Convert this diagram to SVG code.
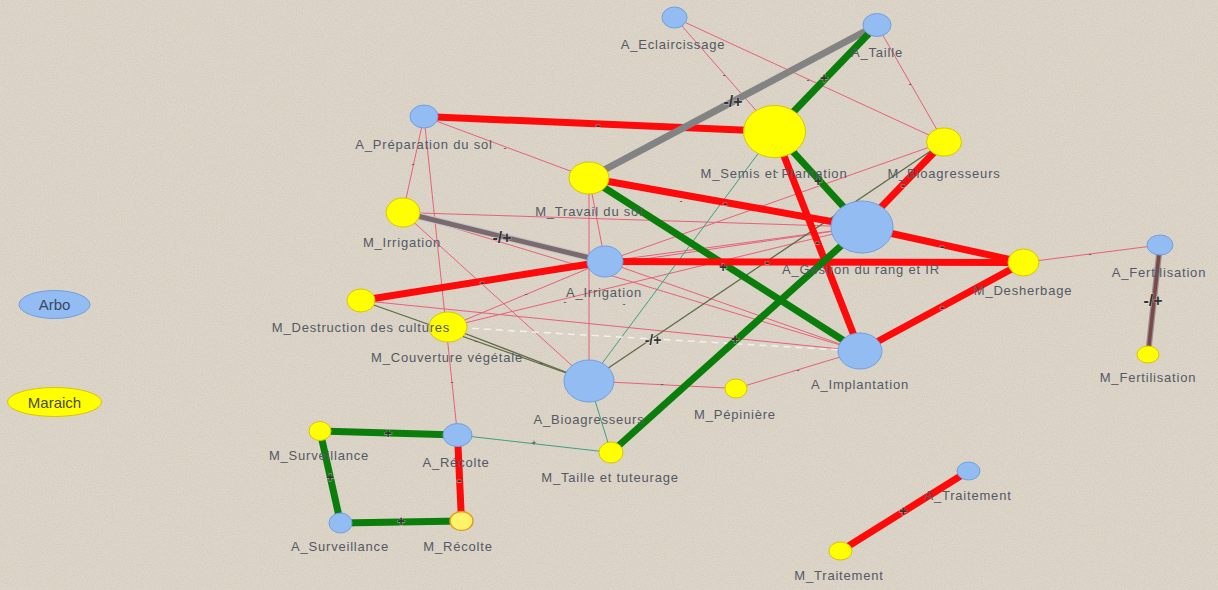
<svg xmlns="http://www.w3.org/2000/svg" width="1218" height="590" viewBox="0 0 1218 590">
<defs>
<filter id="noise" x="0" y="0" width="100%" height="100%">
<feTurbulence type="fractalNoise" baseFrequency="0.9" numOctaves="2" seed="3" result="n"/>
<feColorMatrix in="n" type="matrix" values="0 0 0 0 0.45  0 0 0 0 0.42  0 0 0 0 0.38  0 0 0 -1.6 0.95"/>
</filter>
<style>
.t{font-family:"Liberation Sans",Arial,sans-serif;font-size:13px;letter-spacing:0.8px;fill:#545964;text-anchor:middle}
.lg{font-family:"Liberation Sans",Arial,sans-serif;font-size:15px;text-anchor:middle}
.a{fill:#93bdf2;stroke:#6f9fe2;stroke-width:1}
.m{fill:#ffff00;stroke:#d8c600;stroke-width:1}
.thin{stroke:#e8607a;stroke-width:1;fill:none}
.teal{stroke:#3fa07e;stroke-width:1;fill:none}
.olive{stroke:#5d6a45;stroke-width:1.3;fill:none}
.red{stroke:#ff0a0a;stroke-width:7;fill:none}
.green{stroke:#0a7d0a;stroke-width:7;fill:none}
.el{font-family:"Liberation Sans",Arial,sans-serif;font-size:14px;font-weight:bold;fill:#333;text-anchor:middle;stroke:#ffffff;stroke-width:0.8;stroke-opacity:0.6;paint-order:stroke}
.es{font-family:"Liberation Sans",Arial,sans-serif;font-size:9px;fill:#444;text-anchor:middle}
.big{font-family:"Liberation Sans",Arial,sans-serif;font-size:16px;font-weight:bold;fill:#333;text-anchor:middle;stroke:#ffffff;stroke-width:0.8;stroke-opacity:0.5;paint-order:stroke}
</style>
</defs>
<rect width="1218" height="590" fill="#dcd5c8"/>
<rect width="1218" height="590" filter="url(#noise)" opacity="0.35"/>

<g id="connectors">
<g id="thin-edges">
<line class="thin" x1="674.5" y1="17.5" x2="774.5" y2="131.5"/>
<line class="thin" x1="674.5" y1="17.5" x2="944" y2="142"/>
<line class="thin" x1="877" y1="25" x2="944" y2="142"/>
<line class="thin" x1="424" y1="116.5" x2="589" y2="178"/>
<line class="thin" x1="424" y1="116.5" x2="403" y2="212.5"/>
<line class="thin" x1="424" y1="116.5" x2="457.5" y2="435"/>
<line class="thin" x1="403" y1="212.5" x2="862" y2="227"/>
<line class="thin" x1="403" y1="212.5" x2="589" y2="381"/>
<line class="thin" x1="403" y1="212.5" x2="860" y2="351"/>
<line class="thin" x1="589" y1="178" x2="605" y2="261.5"/>
<line class="thin" x1="589" y1="178" x2="589" y2="381"/>
<line class="thin" x1="605" y1="261.5" x2="944" y2="142"/>
<line class="thin" x1="605" y1="261.5" x2="862" y2="227"/>
<line class="thin" x1="605" y1="261.5" x2="860" y2="351"/>
<line class="thin" x1="361" y1="300.5" x2="860" y2="351"/>
<line class="thin" x1="361" y1="300.5" x2="862" y2="227"/>
<line class="thin" x1="448" y1="327" x2="605" y2="261.5"/>
<line class="thin" x1="448" y1="327" x2="862" y2="227"/>
<line class="thin" x1="589" y1="381" x2="736" y2="388.5"/>
<line class="thin" x1="736" y1="388.5" x2="860" y2="351"/>
<line class="thin" x1="1023.5" y1="262.5" x2="1160" y2="245"/>
<line class="olive" x1="361" y1="300.5" x2="589" y2="381"/>
<line class="olive" x1="448" y1="327" x2="589" y2="381"/>
<line class="olive" x1="589" y1="381" x2="944" y2="142" stroke="#4d5a4d"/>
<line class="teal" x1="774.5" y1="131.5" x2="589" y2="381"/>
<line class="teal" x1="589" y1="381" x2="611" y2="452.5"/>
<line class="teal" x1="457.5" y1="435" x2="611" y2="452.5"/>
<line x1="448" y1="327" x2="860" y2="351" stroke="#f4f0ea" stroke-width="1.5" stroke-dasharray="7,5"/>
</g>
<g id="thick-edges">
<line class="red" x1="424" y1="116.5" x2="774.5" y2="131.5"/>
<line x1="589" y1="178" x2="877" y2="25" stroke="#838383" stroke-width="7"/>
<line class="green" x1="877" y1="25" x2="774.5" y2="131.5"/>
<line class="green" x1="774.5" y1="131.5" x2="862" y2="227"/>
<line class="red" x1="774.5" y1="131.5" x2="860" y2="351"/>
<line class="red" x1="944" y1="142" x2="862" y2="227"/>
<line class="red" x1="589" y1="178" x2="862" y2="227"/>
<line class="green" x1="589" y1="178" x2="860" y2="351"/>
<line class="red" x1="862" y1="227" x2="1023.5" y2="262.5"/>
<line class="red" x1="605" y1="261.5" x2="1023.5" y2="262.5"/>
<line class="red" x1="860" y1="351" x2="1023.5" y2="262.5"/>
<line class="green" x1="862" y1="227" x2="611" y2="452.5"/>
<line class="red" x1="361" y1="300.5" x2="605" y2="261.5"/>
<line x1="403" y1="212.5" x2="605" y2="261.5" stroke="#c9c2c4" stroke-width="7"/>
<line x1="403" y1="212.5" x2="605" y2="261.5" stroke="#786a6e" stroke-width="5"/>
<line x1="1160" y1="245" x2="1148" y2="354.5" stroke="#9a9090" stroke-width="6"/>
<line x1="1160" y1="245" x2="1148" y2="354.5" stroke="#7a4848" stroke-width="3.5"/>
<line class="green" x1="320" y1="431" x2="457.5" y2="435"/>
<line class="green" x1="320" y1="431" x2="340.5" y2="523"/>
<line class="green" x1="340.5" y1="523" x2="461.5" y2="521"/>
<line class="red" x1="457.5" y1="435" x2="461.5" y2="521"/>
<line class="red" x1="968.5" y1="471" x2="840.5" y2="551" stroke-width="6" stroke="#e80e0e"/>
</g>
<g id="edge-labels">
<text class="el" x="598" y="130">-</text>
<text class="big" x="733" y="107">-/+</text>
<text class="el" x="824" y="83">+</text>
<text class="el" x="818" y="186">+</text>
<text class="el" x="903" y="190">-</text>
<text class="el" x="725" y="208">-</text>
<text class="el" x="817" y="247">-</text>
<text class="el" x="942" y="251">-</text>
<text class="el" x="942" y="312">-</text>
<text class="el" x="767" y="267">-</text>
<text class="el" x="723" y="272">+</text>
<text class="el" x="735" y="344">+</text>
<text class="el" x="653" y="345">-/+</text>
<text class="el" x="482" y="287">-</text>
<text class="big" x="502" y="243">-/+</text>
<text class="big" x="1153" y="306">-/+</text>
<text class="el" x="388" y="438">+</text>
<text class="el" x="330" y="482">+</text>
<text class="el" x="401" y="526">+</text>
<text class="el" x="459" y="485">-</text>
<text class="el" x="903" y="516">+</text>
<text class="es" x="534" y="446">+</text>
<text class="es" x="505" y="151">-</text>
<text class="es" x="413" y="167">-</text>
<text class="es" x="724" y="78">-</text>
<text class="es" x="808" y="83">-</text>
<text class="es" x="910" y="87">-</text>
<text class="es" x="452" y="385">-</text>
<text class="es" x="526" y="297">-</text>
<text class="es" x="624" y="307">-</text>
<text class="es" x="476" y="344">-</text>
<text class="es" x="565" y="305">-</text>
<text class="es" x="681" y="204">-</text>
<text class="es" x="777" y="175">-</text>
<text class="es" x="541" y="366">-</text>
<text class="es" x="662" y="387">-</text>
<text class="es" x="798" y="373">-</text>
<text class="es" x="1090" y="257">-</text>
</g>
</g>

<g id="legend-arbo"><ellipse class="a" cx="54.5" cy="304.5" rx="35.5" ry="14"/><text class="lg" x="54.5" y="310" fill="#3a4862">Arbo</text></g>
<g id="legend-maraich"><ellipse class="m" cx="54.5" cy="402" rx="47" ry="14.5"/><text class="lg" x="54.5" y="407.5" fill="#4a4a28">Maraich</text></g>

<g id="A_Eclaircissage"><ellipse class="a" cx="674.5" cy="17.5" rx="12.5" ry="10.5"/><text class="t" x="673" y="49">A_Eclaircissage</text></g>
<g id="A_Taille"><ellipse class="a" cx="877" cy="25" rx="14" ry="11.5"/><text class="t" x="877" y="57">A_Taille</text></g>
<g id="M_Semis"><ellipse class="m" cx="774.5" cy="131.5" rx="31" ry="26"/><text class="t" x="774" y="178">M_Semis et Plantation</text></g>
<g id="M_Bioagresseurs"><ellipse class="m" cx="944" cy="142" rx="17.5" ry="14"/><text class="t" x="944" y="178">M_Bioagresseurs</text></g>
<g id="A_Preparation"><ellipse class="a" cx="424" cy="116.5" rx="14" ry="11.5"/><text class="t" x="424" y="149">A_Préparation du sol</text></g>
<g id="M_Travail"><ellipse class="m" cx="589" cy="178" rx="20" ry="16"/><text class="t" x="589" y="216">M_Travail du sol</text></g>
<g id="M_Irrigation"><ellipse class="m" cx="403" cy="212.5" rx="17" ry="14.5"/><text class="t" x="402" y="247">M_Irrigation</text></g>
<g id="A_Irrigation"><ellipse class="a" cx="605" cy="261.5" rx="18" ry="15.5"/><text class="t" x="604" y="297">A_Irrigation</text></g>
<g id="M_Couverture"><ellipse class="m" cx="448" cy="327" rx="19" ry="15"/><text class="t" x="447" y="362">M_Couverture végétale</text></g>
<g id="M_Destruction"><ellipse class="m" cx="361" cy="300.5" rx="14" ry="11.5"/><text class="t" x="361" y="332">M_Destruction des cultures</text></g>
<g id="A_Bioagresseurs"><ellipse class="a" cx="589" cy="381" rx="25" ry="21"/><text class="t" x="589" y="424">A_Bioagresseurs</text></g>
<g id="M_Pepiniere"><ellipse class="m" cx="736" cy="388.5" rx="11" ry="9.5"/><text class="t" x="735" y="419">M_Pépinière</text></g>
<g id="M_Taille"><ellipse class="m" cx="611" cy="452.5" rx="12" ry="10.5"/><text class="t" x="610" y="482">M_Taille et tuteurage</text></g>
<g id="A_Gestion"><ellipse class="a" cx="862" cy="227" rx="31" ry="26"/><text class="t" x="861" y="274">A_Gestion du rang et IR</text></g>
<g id="M_Desherbage"><ellipse class="m" cx="1023.5" cy="262.5" rx="15.5" ry="13.5"/><text class="t" x="1023" y="295">M_Desherbage</text></g>
<g id="A_Implantation"><ellipse class="a" cx="860" cy="351" rx="22" ry="18"/><text class="t" x="860" y="389">A_Implantation</text></g>
<g id="A_Fertilisation"><ellipse class="a" cx="1160" cy="245" rx="13" ry="10"/><text class="t" x="1159" y="277">A_Fertilisation</text></g>
<g id="M_Fertilisation"><ellipse class="m" cx="1148" cy="354.5" rx="11" ry="8.5"/><text class="t" x="1148" y="382">M_Fertilisation</text></g>
<g id="M_Surveillance"><ellipse class="m" cx="320" cy="431" rx="11" ry="9.5"/><text class="t" x="319" y="460">M_Surveillance</text></g>
<g id="A_Recolte"><ellipse class="a" cx="457.5" cy="435" rx="14.5" ry="11.5"/><text class="t" x="456" y="467">A_Récolte</text></g>
<g id="A_Surveillance"><ellipse class="a" cx="340.5" cy="523" rx="11.5" ry="10"/><text class="t" x="340" y="551">A_Surveillance</text></g>
<g id="M_Recolte"><ellipse cx="461.5" cy="521" rx="11.5" ry="9.5" fill="#fff36a" stroke="#e0a020" stroke-width="1.5"/><text class="t" x="458" y="551">M_Récolte</text></g>
<g id="A_Traitement"><ellipse class="a" cx="968.5" cy="471" rx="11.5" ry="9"/><text class="t" x="968" y="500">A_Traitement</text></g>
<g id="M_Traitement"><ellipse class="m" cx="840.5" cy="551" rx="11.5" ry="9"/><text class="t" x="839" y="580">M_Traitement</text></g>
</svg>
